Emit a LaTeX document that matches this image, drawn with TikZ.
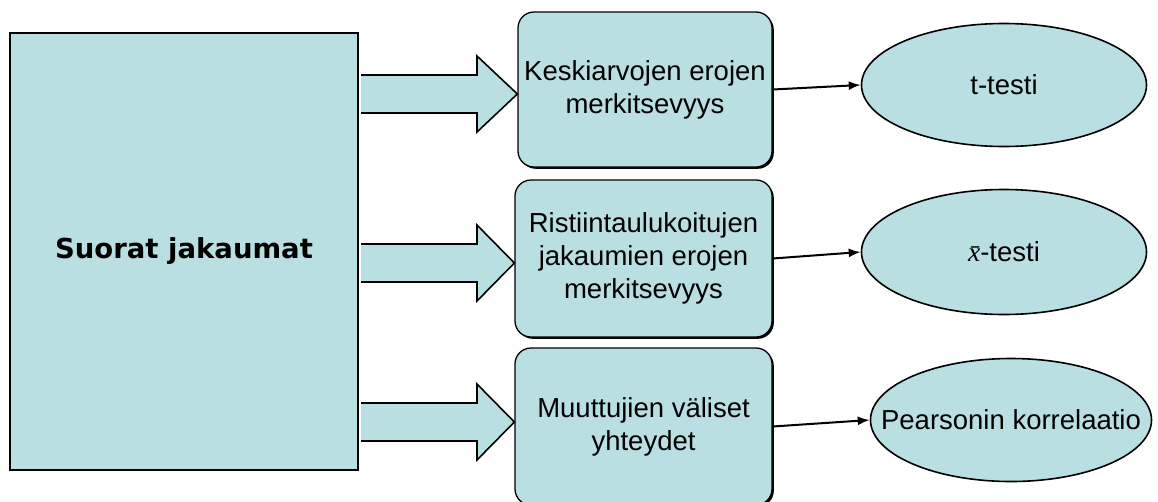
\documentclass[tikz,border=0pt]{standalone}
\usepackage{fontspec}
\setmainfont{Liberation Sans}
\newfontfamily\djv{DejaVu Sans}
\newfontfamily\lserif{Liberation Serif}
\usetikzlibrary{shapes.geometric,arrows.meta,shadows}
\definecolor{boxfill}{RGB}{186,223,226}
\tikzset{
  bigbox/.style={draw=black, line width=2pt, fill=boxfill, minimum width=348pt, minimum height=437pt, inner sep=0pt,
    font=\djv\bfseries\fontsize{27.5}{33}\selectfont},
  roundbox/.style={draw=black, line width=1.3pt, fill=boxfill, rounded corners=16pt, inner sep=0pt, align=center,
    font=\fontsize{27.5}{33}\selectfont,
    drop shadow={shadow xshift=1.8pt, shadow yshift=-1.8pt, opacity=1, fill=black}},
  oval/.style={ellipse, draw=black, line width=1.6pt, fill=boxfill, inner xsep=-40pt, inner ysep=0pt,
    font=\fontsize{27.5}{31}\selectfont},
  blockarrow/.style={draw=black, line width=1.6pt, line join=miter},
  conn/.style={draw=black, line width=2pt, -{Latex[length=12pt,width=9pt]}}
}
\begin{document}
\begin{tikzpicture}[x=1pt,y=-1pt]
\useasboundingbox (0,0) rectangle (1158,501);
\fill[white] (0,0) rectangle (1158,501);

% main box
\node[bigbox] (big) at (184,251.5) {Suorat jakaumat};

% middle boxes
\node[roundbox, minimum width=254pt, minimum height=155pt] (b1) at (645,89.5) {Keskiarvojen erojen\\merkitsevyys};
\node[roundbox, minimum width=257pt, minimum height=157pt] (b2) at (643.5,258.5) {Ristiintaulukoitujen\\jakaumien erojen\\merkitsevyys};
\node[roundbox, minimum width=257pt, minimum height=157pt] (b3) at (643.5,426.5) {Muuttujien väliset\\yhteydet};

% ellipses
\node[oval, minimum width=285pt, minimum height=123pt] (e1) at (1004,85) {t-testi};
\node[oval, minimum width=285pt, minimum height=125pt] (e2) at (1004,252) {{\lserif\itshape x\char"0304}-testi};
\node[oval, minimum width=281pt, minimum height=123pt] (e3) at (1011,420) {Pearsonin korrelaatio};

% block arrows
\foreach \yc/\tgt in {94/b1, 263/b2, 422/b3}{
  \fill[boxfill] (361,\yc-19) -- (477,\yc-19) -- (477,\yc-38) -- (\tgt.west |- 0,\yc) -- (477,\yc+38) -- (477,\yc+19) -- (361,\yc+19) -- cycle;
  \draw[blockarrow] (361,\yc-19) -- (477,\yc-19) -- (477,\yc-38) -- (\tgt.west |- 0,\yc) -- (477,\yc+38) -- (477,\yc+19) -- (361,\yc+19);
}

% connectors
\draw[conn] (b1.east) -- (e1.west);
\draw[conn] (b2.east) -- (e2.west);
\draw[conn] (b3.east) -- (e3.west);
\end{tikzpicture}
\end{document}
